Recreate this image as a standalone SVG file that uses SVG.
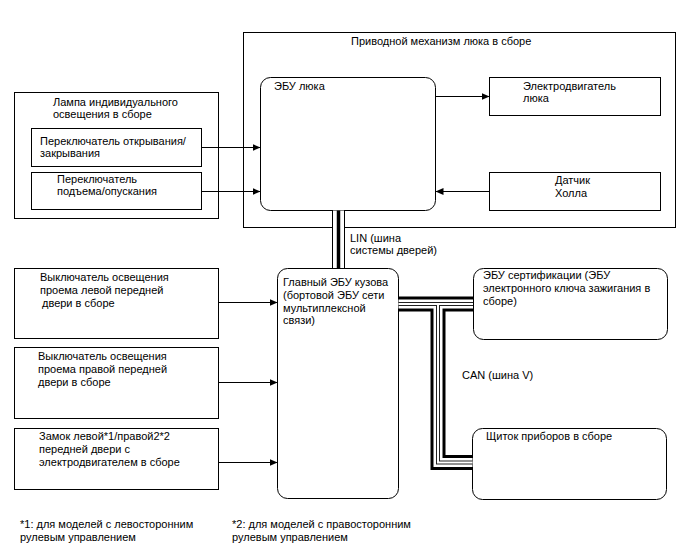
<svg xmlns="http://www.w3.org/2000/svg" width="688" height="560" viewBox="0 0 688 560">
<defs>
<marker id="arr" markerUnits="userSpaceOnUse" markerWidth="9" markerHeight="8" refX="8" refY="3.5" orient="auto">
<path d="M0,0 L8,3.5 L0,7 z" fill="#000"/>
</marker>
<style>
text{font-family:"Liberation Sans",Arial,sans-serif;font-size:11px;fill:#000}
.box{fill:#fff;stroke:#000;stroke-width:1}
.ln{fill:none;stroke:#000;stroke-width:1;marker-end:url(#arr)}
.b1{fill:none;stroke:#000}
.b2{fill:none;stroke:#fff}
.b3{fill:none;stroke:#222}
</style>
</defs>
<rect width="688" height="560" fill="#fff"/>

<g id="lamp">
<rect class="box" x="14.5" y="92.5" width="204" height="126"/>
<text x="53" y="106">Лампа индивидуального</text>
<text x="53" y="118">освещения в сборе</text>
</g>
<g id="sw-open">
<rect class="box" x="31.5" y="128.5" width="170" height="38"/>
<text x="40" y="145">Переключатель открывания/</text>
<text x="40" y="157">закрывания</text>
</g>
<g id="sw-tilt">
<rect class="box" x="31.5" y="172.5" width="170" height="37"/>
<text x="57" y="183">Переключатель</text>
<text x="57" y="195">подъема/опускания</text>
</g>

<g id="sunroof-assy">
<rect class="box" x="243.5" y="32.5" width="432" height="195"/>
<text x="351" y="45">Приводной механизм люка в сборе</text>
</g>
<g id="sunroof-ecu">
<rect class="box" x="260.5" y="77.5" width="175" height="133" rx="10"/>
<text x="274" y="90">ЭБУ люка</text>
</g>
<g id="motor">
<rect class="box" x="489.5" y="77.5" width="171" height="38"/>
<text x="523" y="90">Электродвигатель</text>
<text x="523" y="102">люка</text>
</g>
<g id="hall">
<rect class="box" x="489.5" y="172.5" width="171" height="38"/>
<text x="555" y="184">Датчик</text>
<text x="555" y="197">Холла</text>
</g>

<g id="main-ecu">
<rect class="box" x="277.5" y="268.5" width="121" height="230" rx="10"/>
<text x="283" y="286">Главный ЭБУ кузова</text>
<text x="283" y="299">(бортовой ЭБУ сети</text>
<text x="283" y="311.5">мультиплексной</text>
<text x="283" y="324">связи)</text>
</g>
<g id="cert-ecu">
<rect class="box" x="473.5" y="268.5" width="194" height="71" rx="10"/>
<text x="483" y="278.5">ЭБУ сертификации (ЭБУ</text>
<text x="483" y="291.5">электронного ключа зажигания в</text>
<text x="483" y="304.5">сборе)</text>
</g>
<g id="cluster">
<rect class="box" x="472.5" y="428.5" width="194" height="71" rx="10"/>
<text x="486" y="440">Щиток приборов в сборе</text>
</g>

<g id="sw-left">
<rect class="box" x="14.5" y="268.5" width="204" height="70"/>
<text x="40" y="281">Выключатель освещения</text>
<text x="40" y="294">проема левой передней</text>
<text x="42" y="307">двери в сборе</text>
</g>
<g id="sw-right">
<rect class="box" x="14.5" y="347.5" width="204" height="71"/>
<text x="38" y="360">Выключатель освещения</text>
<text x="38" y="373">проема правой передней</text>
<text x="38" y="386">двери в сборе</text>
</g>
<g id="door-lock">
<rect class="box" x="14.5" y="428.5" width="204" height="61"/>
<text x="39" y="440">Замок левой*1/правой2*2</text>
<text x="39" y="453">передней двери с</text>
<text x="39" y="466">электродвигателем в сборе</text>
</g>

<g id="connectors">
<line class="ln" x1="201.5" y1="147.5" x2="260.5" y2="147.5"/>
<line class="ln" x1="201.5" y1="191.5" x2="260.5" y2="191.5"/>
<line class="ln" x1="435.5" y1="96.5" x2="489.5" y2="96.5"/>
<line class="ln" x1="489.5" y1="191.5" x2="435.5" y2="191.5"/>
<line class="ln" x1="218.5" y1="302.5" x2="277.5" y2="302.5"/>
<line class="ln" x1="218.5" y1="382.5" x2="277.5" y2="382.5"/>
<line class="ln" x1="218.5" y1="462.5" x2="277.5" y2="462.5"/>

<g id="lin-bus">
<path class="b1" stroke-width="13" d="M338.5,210.5 V268"/>
<path class="b2" stroke-width="11" d="M338.5,210.5 V268"/>
<path class="b1" stroke-width="3.5" d="M338.5,210.5 V268"/>
</g>
<text x="350" y="242">LIN (шина</text>
<text x="350" y="254">системы дверей)</text>

<g id="can-bus">
<path class="b1" stroke-width="15" d="M398.5,304 H473"/>
<path class="b1" stroke-width="15" d="M438,304 V462.5 H472.5"/>
<path class="b2" stroke-width="9" d="M398.5,304 H473"/>
<path class="b2" stroke-width="9" d="M438,304 V462.5 H472.5"/>
<path class="b3" stroke-width="4" d="M398.5,304 H473"/>
<path class="b3" stroke-width="4" d="M438,304 V462.5 H472.5"/>
<path class="b2" stroke-width="2" d="M398.5,304 H473"/>
<path class="b2" stroke-width="2" d="M438,304 V462.5 H472.5"/>
</g>
<text x="462" y="379">CAN (шина V)</text>
</g>

<g id="footnotes">
<text x="20" y="528">*1: для моделей с левосторонним</text>
<text x="20" y="541">рулевым управлением</text>
<text x="232" y="528">*2: для моделей с правосторонним</text>
<text x="232" y="541">рулевым управлением</text>
</g>
</svg>
